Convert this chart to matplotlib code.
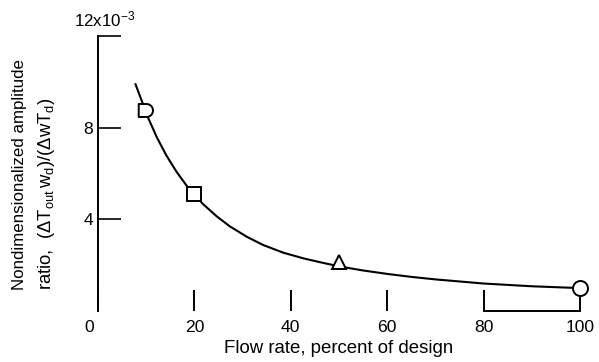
import matplotlib
matplotlib.use("Agg")
import matplotlib.pyplot as plt
from matplotlib import font_manager as fm
from matplotlib.path import Path
from matplotlib.transforms import ScaledTranslation
import numpy as np

# ---- data ----
flow_markers = [10, 20, 50, 100]
amp_markers = [8.8, 5.1, 2.15, 1.0]
marker_kinds = ["D", "s", "^", "o"]

curve_flow = [7.7, 10.4, 12.2, 14.2, 16.3, 18.4, 20.1, 21.8, 24.6, 27.4, 30.9, 34.3,
              38.4, 42.6, 46.1, 50, 55, 60, 65, 70, 75, 80, 85, 90, 95, 100]
curve_amp = [9.95, 8.44, 7.59, 6.79, 6.08, 5.47, 5.05, 4.67, 4.14, 3.69, 3.24, 2.88,
             2.55, 2.30, 2.13, 1.95, 1.77, 1.62, 1.49, 1.38, 1.29, 1.20, 1.14, 1.08, 1.04, 1.0]

x_ticks = [0, 20, 40, 60, 80, 100]
x_ticklabels = ["0", "20", "40", "60", "80", "100"]
y_ticks = [4, 8, 12]
y_ticklabels = ["4", "8", ""]

names = {f.name for f in fm.fontManager.ttflist}
font = next((n for n in ["Liberation Sans", "Arimo", "DejaVu Sans"] if n in names), "DejaVu Sans")
plt.rcParams["font.family"] = [font, "DejaVu Sans"]
plt.rcParams["mathtext.fontset"] = "custom"
plt.rcParams["mathtext.rm"] = font
plt.rcParams["mathtext.it"] = font
plt.rcParams["mathtext.sf"] = font

FS = 12.6

fig = plt.figure(figsize=(5.99, 3.62), dpi=100)
ax = fig.add_axes([0.1636, 0.1409, 0.8047, 0.7588])
ax.set_xlim(0, 100)
ax.set_ylim(0, 12)

ax.plot(curve_flow, curve_amp, color="black", lw=1.5, solid_capstyle="butt",
        solid_joinstyle="round", zorder=2)

# custom "D" shaped marker: flat left side, rounded right side
t = np.linspace(np.pi / 2, -np.pi / 2, 30)
verts = [(-0.6, -0.5), (-0.6, 0.5), (0, 0.5)] + [(0.5 * np.cos(a), 0.5 * np.sin(a)) for a in t[1:]] + [(-0.6, -0.5)]
dpath = Path(verts, closed=True)
mk = {"D": (dpath, 11.2), "s": ("s", 10), "^": ("^", 9.4), "o": ("o", 10.8)}
for xv, yv, k in zip(flow_markers, amp_markers, marker_kinds):
    m, ms = mk[k]
    ax.plot([xv], [yv], marker=m, ms=ms, mfc="white", mec="black", mew=1.4,
            ls="none", zorder=3, clip_on=False)

for s in ["top", "right"]:
    ax.spines[s].set_visible(False)
ax.spines["left"].set_linewidth(1.4)
ax.spines["bottom"].set_linewidth(1.4)
ax.spines["bottom"].set_bounds(80, 100)

ax.set_xticks(x_ticks)
ax.set_xticklabels(x_ticklabels)
ax.set_yticks(y_ticks)
ax.set_yticklabels(y_ticklabels)
ax.tick_params(axis="x", direction="in", length=15, width=1.4, pad=6.5, labelsize=FS)
ax.tick_params(axis="y", direction="in", length=16.5, width=1.2, pad=3.5, labelsize=FS)
# shift the "0" label a bit to the left as in the reference
lab0 = ax.get_xticklabels()[0]
lab0.set_transform(lab0.get_transform() + ScaledTranslation(-6 / 72, 0, fig.dpi_scale_trans))

ax.annotate(r"12x10$^{-3}$", xy=(0, 12), xycoords="data", xytext=(-17, 5),
            textcoords="offset points", ha="left", va="bottom", fontsize=12.2)

ax.set_xlabel("Flow rate, percent of design", fontsize=13.4, labelpad=3.5)
fig.text(0.033, 0.199, "Nondimensionalized amplitude", rotation=90, ha="center", va="bottom", fontsize=12.2)
fig.text(0.078, 0.199, r"ratio,  $(\Delta T_{\mathrm{out}}\,w_{\mathrm{d}})/(\Delta w T_{\mathrm{d}})$",
         rotation=90, ha="center", va="bottom", fontsize=13.3)

fig.savefig("out.png", dpi=100)
